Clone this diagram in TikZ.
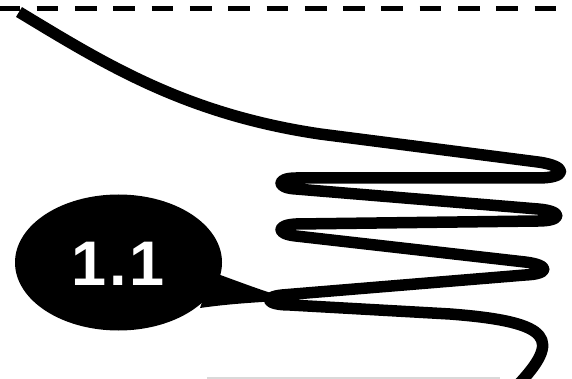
\documentclass[tikz,border=0pt]{standalone}
\usepackage{fontspec}
\setmainfont{Liberation Sans}
\usetikzlibrary{shapes.geometric}
\begin{document}
\begin{tikzpicture}[x=1pt,y=-1pt,
  spring/.style={line width=11.5pt,line join=round},
  dashline/.style={line width=4.5pt,dash pattern=on 21.7pt off 16.6pt,dash phase=1.6pt},
  bubble/.style={ellipse,fill=black,minimum width=207pt,minimum height=136pt,inner sep=0pt},
  label/.style={text=white,font=\bfseries\fontsize{63}{63}\selectfont}]
\useasboundingbox (0,0) rectangle (572,379);
\coordinate (dl) at (0,8.3);
\coordinate (dr) at (572,8.3);
\draw[dashline] (dl) -- (dr);
% faint bottom line
\coordinate (gl) at (207,378);
\coordinate (gr) at (500,378);
\draw[gray!30,line width=1.2pt] (gl) -- (gr);
% spring curve
\draw[spring] (19,12) .. controls (105,64) and (185,114) .. (320,134)
  -- (538,162) .. controls (568,166) and (568,178) .. (538,178)
  -- (296,178) .. controls (276,178) and (276,188) .. (296,189)
  -- (538,209) .. controls (563,211) and (563,221) .. (538,221)
  -- (296,224) .. controls (276,225) and (276,234) .. (296,236)
  -- (525,262) .. controls (550,265) and (550,274) .. (525,275)
  -- (282,295) .. controls (263,297) and (266,305) .. (290,305)
  -- (450,314) .. controls (555,322) and (560,340) .. (518,385);
% speech bubble
\node[bubble] (b) at (118.5,262.5) {};
\coordinate (tailtop) at (212,272);
\coordinate (tailtip) at (294,300);
\coordinate (tailbot) at (200,308);
\fill (tailtop) .. controls (240,282) and (265,292) .. (tailtip)
  .. controls (265,302) and (235,303) .. (tailbot) -- cycle;
\node[label] (t) at (118,264) {1\kern3pt.\kern3pt1};
\end{tikzpicture}
\end{document}
